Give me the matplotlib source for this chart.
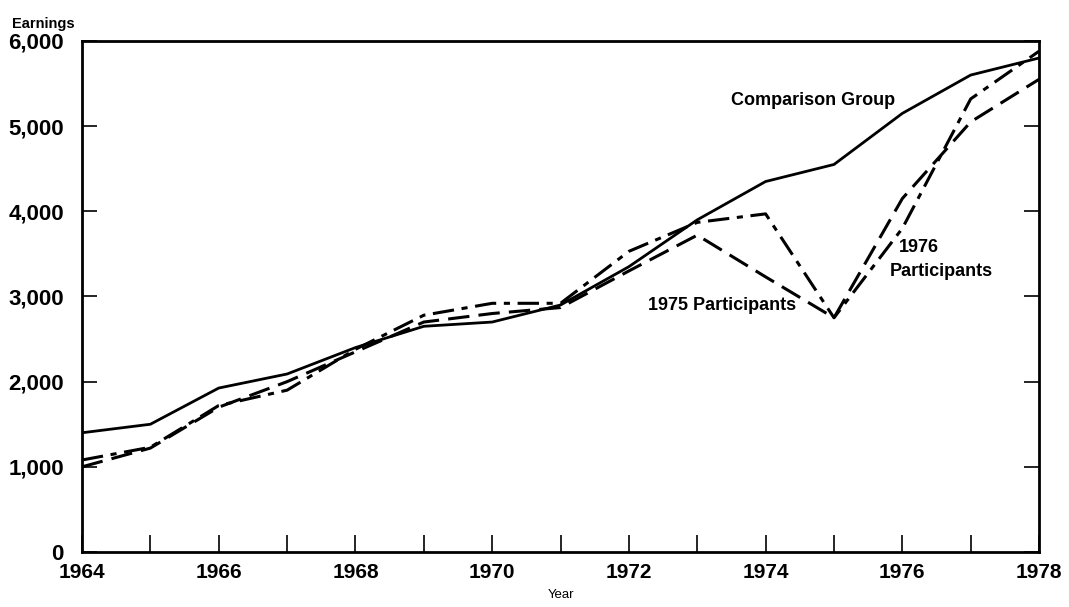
import matplotlib.pyplot as plt

plt.rcParams['font.family'] = ['Liberation Sans', 'DejaVu Sans']
plt.rcParams['font.weight'] = 'bold'

# data
years = list(range(1964, 1979))
comparison = [1400, 1500, 1925, 2090, 2400, 2650, 2700, 2900, 3350, 3900,
              4350, 4550, 5150, 5600, 5800]
part_1975 = [1000, 1220, 1700, 2000, 2350, 2700, 2800, 2870, 3300, 3720,
             3230, 2750, 4150, 5050, 5550]
part_1976 = [1080, 1230, 1720, 1900, 2380, 2780, 2920, 2920, 3530, 3870,
             3970, 2750, 3800, 5320, 5880]
y_ticks = [0, 1000, 2000, 3000, 4000, 5000, 6000]
y_tick_labels = ['0', '1,000', '2,000', '3,000', '4,000', '5,000', '6,000']

fig = plt.figure(figsize=(10.69, 6.07), dpi=100)
ax = fig.add_axes([0.0767, 0.0906, 0.8953, 0.8419])

ax.plot(years, comparison, color='black', lw=2.0, solid_joinstyle='miter')
ax.plot(years, part_1975, color='black', lw=2.2, dashes=(7, 3))
ax.plot(years, part_1976, color='black', lw=2.2, dashes=(7, 2.5, 2, 2.5))

ax.set_xlim(1964, 1978)
ax.set_ylim(0, 6000)

ax.set_xticks(years)
ax.set_xticklabels([str(y) if y % 2 == 0 else '' for y in years])
ax.set_yticks(y_ticks)
ax.set_yticklabels(y_tick_labels)
ax.tick_params(axis='x', direction='in', length=12, width=1.2,
               labelsize=15, pad=8)
ax.tick_params(axis='y', direction='in', length=11, width=1.2,
               labelsize=16, pad=13, right=True)

for s in ax.spines.values():
    s.set_linewidth(2)

ax.set_xlabel('Year', fontsize=9.5, labelpad=5)
fig.text(0.011, 0.961, 'Earnings', fontsize=10.5, ha='left', va='center')

ax.text(1974.7, 5300, 'Comparison Group', fontsize=13, ha='center', va='center')
ax.text(1973.36, 2890, '1975 Participants', fontsize=13, ha='center', va='center')
ax.text(1975.95, 3570, '1976', fontsize=13, ha='left', va='center')
ax.text(1975.82, 3290, 'Participants', fontsize=13, ha='left', va='center')

fig.savefig('out.png', dpi=100)
